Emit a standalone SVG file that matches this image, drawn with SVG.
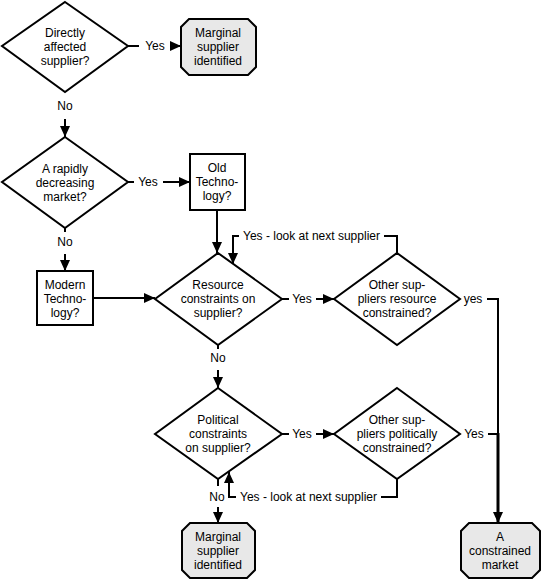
<svg xmlns="http://www.w3.org/2000/svg" width="543" height="580" viewBox="0 0 543 580">
<style>
.shape{fill:#fff;stroke:#000;stroke-width:2}
.term{fill:#e8e8e8;stroke:#000;stroke-width:2}
text{font-family:"Liberation Sans",Arial,sans-serif;font-size:12px;fill:#000;text-anchor:middle}
.lbl{text-anchor:start}
.c{fill:none;stroke:#000;stroke-width:2}
.thick{stroke-width:3}
</style>
<defs>
<marker id="ah" markerUnits="userSpaceOnUse" markerWidth="11" markerHeight="10" refX="11" refY="5" orient="auto">
<path d="M0,0 L11,5 L0,10 z" fill="#000"/>
</marker>
</defs>
<rect width="543" height="580" fill="#fff"/>
<g id="connectors">
<path class="c" d="M128,46 H139"/><text x="155" y="50">Yes</text><path class="c" d="M170,46 H181" marker-end="url(#ah)"/>
<text x="65" y="110">No</text><path class="c" d="M65,119 V137" marker-end="url(#ah)"/>
<path class="c" d="M128,182 H134"/><text x="148" y="186">Yes</text><path class="c" d="M163,182 H190" marker-end="url(#ah)"/>
<path class="c" d="M65,228 V232"/><text x="65" y="246">No</text><path class="c" d="M65,254 V271" marker-end="url(#ah)"/>
<path class="c" d="M217,210 V253" marker-end="url(#ah)"/>
<path class="c" d="M93,298 H155" marker-end="url(#ah)"/>
<path class="c" d="M282,299 H289"/><text x="302" y="303">Yes</text><path class="c" d="M316,299 H334" marker-end="url(#ah)"/>
<path class="c" d="M397,253 V236 H384"/><text class="lbl" x="243" y="240">Yes - look at next supplier</text><path class="c" d="M239,236 H233 V264" marker-end="url(#ah)"/>
<text x="473" y="303">yes</text><path class="c" d="M487,299 H498 V434"/>
<path class="c" d="M282,434 H289"/><text x="302" y="438">Yes</text><path class="c" d="M316,434 H334" marker-end="url(#ah)"/>
<text x="474" y="438">Yes</text><path class="c" d="M488,434 H498"/><path class="c thick" d="M498,433 V523" marker-end="url(#ah)"/>
<path class="c" d="M218,345 V349"/><text x="218" y="362">No</text><path class="c" d="M218,370 V388" marker-end="url(#ah)"/>
<path class="c" d="M397,479 V497 H381"/><text class="lbl" x="240" y="501">Yes - look at next supplier</text><path class="c" d="M236,497 H229 V472" marker-end="url(#ah)"/>
<path class="c" d="M218,479 V486"/><text x="217" y="501">No</text><path class="c" d="M218,507 V523" marker-end="url(#ah)"/>
</g>
<g id="d1"><path class="shape" d="M65,2 L128,46 L65,92 L2,46 z"/><text x="65" y="37">Directly</text><text x="65" y="51">affected</text><text x="65" y="65">supplier?</text></g>
<g id="t1"><path class="term" d="M189,19 H248 L256,27 V67 L248,75 H189 L181,67 V27 z"/><text x="218" y="37">Marginal</text><text x="218" y="51">supplier</text><text x="218" y="65">identified</text></g>
<g id="d2"><path class="shape" d="M65,137 L128,182 L65,228 L2,182 z"/><text x="65" y="173">A rapidly</text><text x="65" y="187">decreasing</text><text x="65" y="201">market?</text></g>
<g id="old"><rect class="shape" x="190" y="154" width="55" height="56"/><text x="217" y="172">Old</text><text x="217" y="186">Techno-</text><text x="217" y="200">logy?</text></g>
<g id="modern"><rect class="shape" x="37" y="271" width="56" height="54"/><text x="65" y="289">Modern</text><text x="65" y="303">Techno-</text><text x="65" y="317">logy?</text></g>
<g id="d3"><path class="shape" d="M218,253 L282,299 L218,345 L155,299 z"/><text x="218" y="289">Resource</text><text x="218" y="303">constraints on</text><text x="218" y="317">supplier?</text></g>
<g id="d4"><path class="shape" d="M397,253 L460,299 L397,345 L334,299 z"/><text x="397" y="289">Other sup-</text><text x="397" y="303">pliers resource</text><text x="397" y="317">constrained?</text></g>
<g id="d5"><path class="shape" d="M218,388 L282,434 L218,479 L155,434 z"/><text x="218" y="424">Political</text><text x="218" y="438">constraints</text><text x="218" y="452">on supplier?</text></g>
<g id="d6"><path class="shape" d="M397,388 L460,434 L397,479 L334,434 z"/><text x="397" y="424">Other sup-</text><text x="397" y="438">pliers politically</text><text x="397" y="452">constrained?</text></g>
<g id="t2"><path class="term" d="M190,523 H247 L255,531 V570 L247,578 H190 L182,570 V531 z"/><text x="218" y="541">Marginal</text><text x="218" y="555">supplier</text><text x="218" y="569">identified</text></g>
<g id="t3"><path class="term" d="M469,523 H532 L540,531 V570 L532,578 H469 L461,570 V531 z"/><text x="500" y="541">A</text><text x="500" y="555">constrained</text><text x="500" y="569">market</text></g>
</svg>
